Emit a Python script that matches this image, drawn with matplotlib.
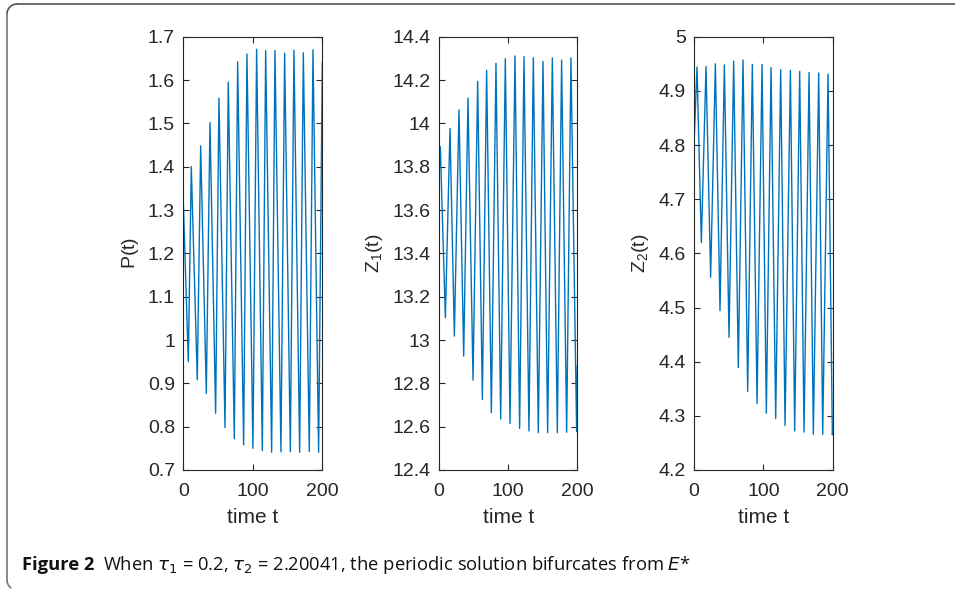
import matplotlib
matplotlib.use("Agg")
import matplotlib.pyplot as plt
from matplotlib.lines import Line2D
from matplotlib.patches import Arc
import numpy as np

# ---- data ----
P_start = (0.0, 1.32)
P_peak_t = [11.5, 25, 38.4, 51.3, 64.7, 78.2, 91.6, 105.5, 118.5, 131.9, 145.8, 159.2, 172.7, 186.6]
P_peak_v = [1.400, 1.448, 1.502, 1.558, 1.595, 1.642, 1.660, 1.671, 1.668, 1.668, 1.662, 1.669, 1.663, 1.670]
P_trough_t = [7.2, 20.1, 33.1, 46.5, 60.0, 73.4, 86.8, 100.2, 113.7, 127.1, 140.5, 154.0, 167.4, 181.3, 194.7]
P_trough_v = [0.950, 0.908, 0.877, 0.831, 0.798, 0.772, 0.758, 0.750, 0.745, 0.741, 0.742, 0.742, 0.741, 0.743, 0.741]
P_end = (200.0, 1.64)

Z1_start = (0.0, 13.765)
Z1_peak_t = [1.9, 15.9, 28.9, 41.9, 55.9, 68.9, 82.4, 95.9, 109.9, 122.9, 136.4, 150.4, 163.9, 177.3, 190.8]
Z1_peak_v = [13.892, 13.977, 14.062, 14.117, 14.194, 14.245, 14.277, 14.298, 14.311, 14.308, 14.303, 14.286, 14.302, 14.292, 14.302]
Z1_trough_t = [9.2, 22.2, 35.7, 49.2, 62.7, 75.7, 89.2, 102.7, 116.6, 130.1, 143.6, 157.1, 171.1, 184.6, 199.0]
Z1_trough_v = [13.103, 13.018, 12.926, 12.815, 12.726, 12.665, 12.635, 12.615, 12.592, 12.580, 12.572, 12.572, 12.572, 12.574, 12.577]
Z1_end = (200.0, 12.88)

Z2_start = (0.0, 4.80)
Z2_peak_t = [4.3, 17.3, 30.8, 43.8, 57.2, 70.7, 84.1, 98.1, 111.1, 125.0, 139.0, 152.4, 165.9, 179.8, 193.3]
Z2_peak_v = [4.944, 4.945, 4.950, 4.948, 4.955, 4.957, 4.949, 4.949, 4.943, 4.939, 4.938, 4.936, 4.934, 4.933, 4.931]
Z2_trough_t = [10.6, 24.0, 37.5, 50.5, 63.9, 77.4, 90.9, 104.3, 117.8, 131.3, 145.2, 158.7, 172.1, 185.6, 199.5]
Z2_trough_v = [4.620, 4.556, 4.494, 4.445, 4.389, 4.345, 4.323, 4.305, 4.295, 4.282, 4.272, 4.270, 4.266, 4.266, 4.265]
Z2_end = (200.0, 4.27)

ylabels = [r'$\mathregular{P(t)}$', r'$\mathregular{Z_1(t)}$', r'$\mathregular{Z_2(t)}$']
ylims = [(0.7, 1.7), (12.4, 14.4), (4.2, 5.0)]
yticks = [np.round(np.arange(0.7, 1.71, 0.1), 1),
          np.round(np.arange(12.4, 14.41, 0.2), 1),
          np.round(np.arange(4.2, 5.01, 0.1), 1)]
xticks = [0, 100, 200]
xlabel = 'time t'
caption_bold = 'Figure 2'
caption_rest = r'When $\tau_1$ = 0.2, $\tau_2$ = 2.20041, the periodic solution bifurcates from $E$*'


def series(start, pt, pv, tt, tv, end):
    pts = [start] + list(zip(pt, pv)) + list(zip(tt, tv)) + [end]
    pts.sort(key=lambda p: p[0])
    return [p[0] for p in pts], [p[1] for p in pts]


data = [series(P_start, P_peak_t, P_peak_v, P_trough_t, P_trough_v, P_end),
        series(Z1_start, Z1_peak_t, Z1_peak_v, Z1_trough_t, Z1_trough_v, Z1_end),
        series(Z2_start, Z2_peak_t, Z2_peak_v, Z2_trough_t, Z2_trough_v, Z2_end)]

plt.rcParams['font.family'] = ['Liberation Sans', 'DejaVu Sans']
plt.rcParams['mathtext.fontset'] = 'dejavusans'

W, H = 955, 591
fig = plt.figure(figsize=(W / 100, H / 100), dpi=100)

lefts = [183.3, 439.0, 694.0]
rights = [322.3, 577.3, 832.7]
top_px, bot_px = 36.7, 470.0
dark = '#262626'
for i in range(3):
    ax = fig.add_axes([lefts[i] / W, 1 - bot_px / H, (rights[i] - lefts[i]) / W, (bot_px - top_px) / H])
    x, y = data[i]
    ax.plot(x, y, color='#0072BD', lw=1.0)
    ax.set_xlim(0, 200)
    ax.set_ylim(*ylims[i])
    ax.set_xticks(xticks)
    ax.set_yticks(yticks[i])
    ax.set_yticklabels([('%g' % v) for v in yticks[i]])
    ax.tick_params(direction='in', top=True, right=True, length=4, width=0.8,
                   labelsize=14, colors=dark, pad=6)
    ax.tick_params(axis='x', pad=9)
    for s in ax.spines.values():
        s.set_color(dark)
        s.set_linewidth(0.8)
    ax.set_xlabel(xlabel, fontsize=15, color=dark, labelpad=6)
    ax.set_ylabel(ylabels[i], fontsize=14, color=dark, labelpad=5)

# frame
fig.add_artist(Line2D([17 / W, 1.0], [1 - 4 / H, 1 - 4 / H], color='#555555', lw=1.2))
fig.add_artist(Line2D([7 / W, 7 / W], [1 - 14 / H, 1 - 580 / H], color='#777777', lw=1.2))
fig.add_artist(Arc((17, H - 14), 20, 20, theta1=90, theta2=180, color='#555555', lw=1.2,
                   transform=None))
fig.add_artist(Arc((17, H - 580), 20, 20, theta1=180, theta2=235, color='#777777', lw=1.2,
                   transform=None))

# caption
t1 = fig.text(22 / W, 1 - 570 / H, caption_bold, fontsize=13.2, fontweight='bold',
              family=['Open Sans', 'DejaVu Sans'], va='baseline', color='#111111')
fig.canvas.draw()
bb = t1.get_window_extent()
fig.text((bb.x1 + 9) / W, 1 - 570 / H, caption_rest, fontsize=13.2,
         family=['Open Sans', 'DejaVu Sans'], va='baseline', color='#111111')

fig.savefig('out.png', dpi=100)
